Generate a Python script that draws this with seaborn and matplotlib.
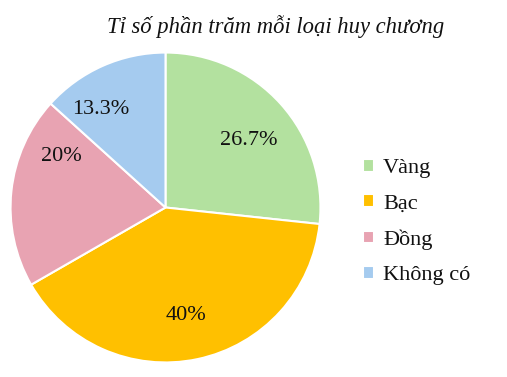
import matplotlib
matplotlib.use("Agg")
import matplotlib.pyplot as plt
import seaborn as sns

sns.set_style("white")
plt.rcParams['font.family'] = ['Liberation Serif', 'DejaVu Serif']

title = "Tỉ số phần trăm mỗi loại huy chương"
categories = ["Vàng", "Bạc", "Đồng", "Không có"]
values = [26.7, 40, 20, 13.3]
labels = ["26.7%", "40%", "20%", "13.3%"]
colors = ["#B3E19F", "#FFC000", "#E8A3B2", "#A5CBEF"]
# label anchor positions (fraction of radius)
label_pos = [(0.54, 0.43), (0.13, -0.70), (-0.67, 0.33), (-0.42, 0.63)]

fig = plt.figure(figsize=(5.07, 3.77), dpi=100)
ax = fig.add_axes([9/507, 13/377, 313/507, 313/377])
wedges, _ = ax.pie(values, colors=colors, startangle=90, counterclock=False,
                   wedgeprops=dict(edgecolor="white", linewidth=1.5), radius=1)
for (x, y), lab in zip(label_pos, labels):
    ax.text(x, y, lab, ha="center", va="center", fontsize=16, color="#111111")
ax.set_xlim(-1.01, 1.01)
ax.set_ylim(-1.01, 1.01)
ax.set_aspect("equal")
ax.axis("off")

fig.text(276/507, 1 - 27/377, title, ha="center", va="center", fontsize=16.3,
         style="italic", color="#111111")

leg = fig.legend(wedges, categories, loc="upper left", bbox_to_anchor=(343/507, 1 - 139/377),
                 frameon=False, fontsize=16, handlelength=0.5, handleheight=0.5,
                 handletextpad=0.4, labelspacing=0.72)
for t in leg.get_texts():
    t.set_color("#111111")

fig.savefig("out.png", dpi=100)
